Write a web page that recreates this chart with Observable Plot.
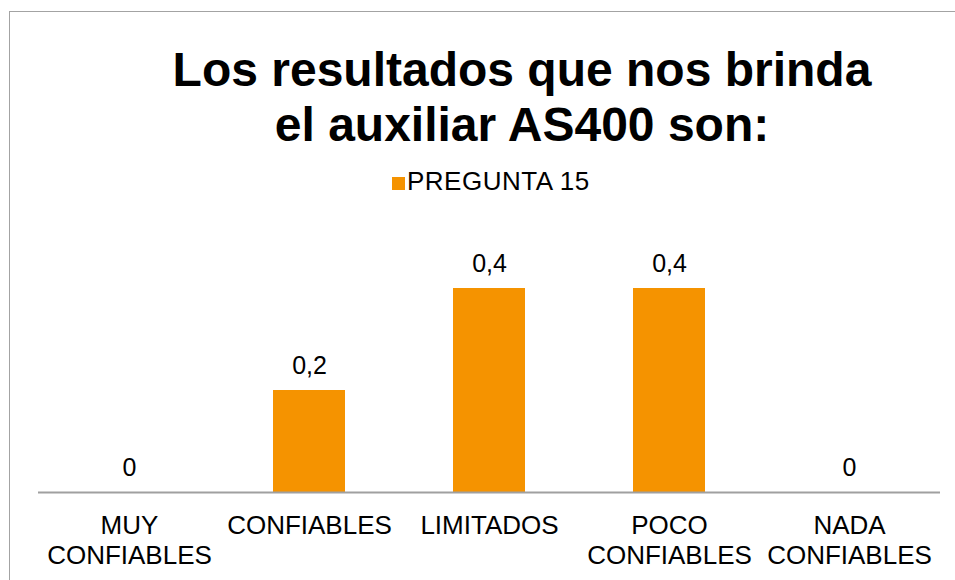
<!DOCTYPE html>
<html>
<head>
<meta charset="utf-8">
<script src="https://cdn.jsdelivr.net/npm/d3@7"></script>
<script src="https://cdn.jsdelivr.net/npm/@observablehq/plot@0.6"></script>
<style>
  html, body { margin: 0; padding: 0; background: #fff; }
  body { width: 955px; height: 580px; position: relative; overflow: hidden; font-family: "Liberation Sans", Arial, sans-serif; }
  #frame { position: absolute; left: 9px; top: 11px; width: 1200px; height: 800px; border-left: 1px solid #a3a3a3; border-top: 1px solid #a3a3a3; }
  #title { position: absolute; left: 172px; top: 42px; width: 700px; text-align: center; font-size: 48px; font-weight: bold; line-height: 55px; color: #000; }
  #legend { position: absolute; left: 392px; top: 168px; font-size: 26px; line-height: 26px; color: #000; white-space: nowrap; letter-spacing: 0.5px; }
  #legend .sw { position: absolute; left: 0; top: 9px; width: 13px; height: 13px; }
  #legend .lb { position: absolute; left: 15px; top: 0; }
  #chart { position: absolute; left: 0; top: 200px; }
</style>
</head>
<body>
<div id="frame"></div>
<div id="title">Los resultados que nos brinda<br>el auxiliar AS400 son:</div>
<div id="legend"><span class="sw"></span><span class="lb"></span></div>
<div id="chart"></div>
<script>
const categories = ["MUY\nCONFIABLES", "CONFIABLES", "LIMITADOS", "POCO\nCONFIABLES", "NADA\nCONFIABLES"];
const values = [0, 0.2, 0.4, 0.4, 0];
const seriesName = "PREGUNTA 15";
const barColor = "#F59300";

const data = categories.map((c, i) => ({category: c, value: values[i]}));
const fmt = v => String(v).replace(".", ",");

document.querySelector("#legend .sw").style.background = barColor;
document.querySelector("#legend .lb").textContent = seriesName;

const chart = Plot.plot({
  width: 955,
  height: 380,
  marginLeft: 38,
  marginRight: 15,
  marginTop: 88,
  marginBottom: 88,
  style: {fontFamily: "'Liberation Sans', Arial, sans-serif", fontSize: "26px", color: "#000", background: "transparent"},
  x: {domain: categories, paddingInner: 0.6, paddingOuter: 0.3, label: null},
  y: {domain: [0, 0.4], axis: null},
  marks: [
    Plot.barY(data, {x: "category", y: "value", fill: barColor}),
    Plot.ruleY([0], {stroke: "#a0a0a0", strokeWidth: 2}),
    Plot.text(data, {x: "category", y: "value", text: d => fmt(d.value), lineAnchor: "bottom", dy: -17, fontSize: 25, fill: "#000"}),
    Plot.axisX({tickSize: 0, tickPadding: 21, fontSize: 26, lineHeight: 1.13, label: null, fill: "#000"})
  ]
});
document.getElementById("chart").appendChild(chart);
</script>
</body>
</html>
